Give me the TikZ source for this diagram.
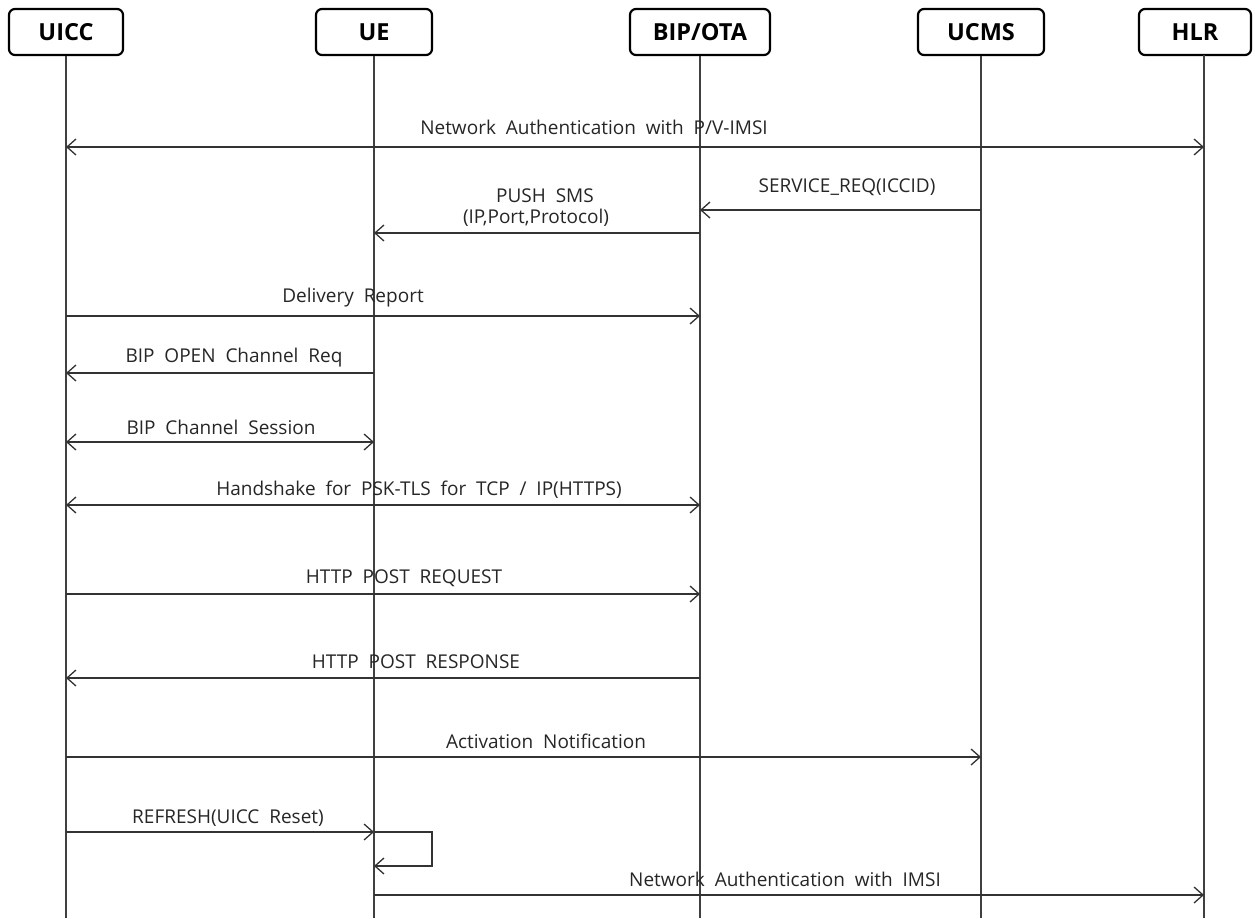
\documentclass[tikz,border=0pt]{standalone}
\usepackage{fontspec}
\setmainfont{Open Sans}[WordSpace=2.0]
\usetikzlibrary{arrows.meta}
\begin{document}
\begin{tikzpicture}[x=1pt,y=-1pt,
  actor/.style={draw=black,line width=2.2pt,rounded corners=6pt,minimum height=46pt,inner sep=0pt,font=\fontsize{23.5}{26}\selectfont\bfseries},
  life/.style={draw=black!75,line width=1.3pt},
  msg/.style={draw=black!80,line width=1.3pt,-{Straight Barb[length=9pt,width=16pt,line width=1.3pt]}},
  bmsg/.style={draw=black!80,line width=1.3pt,{Straight Barb[length=9pt,width=16pt,line width=1.3pt]}-{Straight Barb[length=9pt,width=16pt,line width=1.3pt]}},
  lbl/.style={font=\fontsize{19}{22}\selectfont,text=black!85,inner sep=0pt}]
\useasboundingbox (0,0) rectangle (1255,918);
% actors
\node[actor,minimum width=114pt] (uicc) at (66,32) {UICC};
\node[actor,minimum width=116pt] (ue) at (374,32) {UE};
\node[actor,minimum width=140pt] (bip) at (700,32) {BIP/OTA};
\node[actor,minimum width=126pt] (ucms) at (981,32) {UCMS};
\node[actor,minimum width=112pt] (hlr) at (1195,32) {HLR};
% lifeline ends
\coordinate (uiccE) at (66,918);
\coordinate (ueE) at (374,918);
\coordinate (bipE) at (700,918);
\coordinate (ucmsE) at (981,918);
\coordinate (hlrE) at (1204,918);
\draw[life] (uicc.south) -- (uiccE);
\draw[life] (ue.south) -- (ueE);
\draw[life] (bip.south) -- (bipE);
\draw[life] (ucms.south) -- (ucmsE);
\draw[life] (1204,55) coordinate (hlrS) -- (hlrE);
% message points
\foreach \n/\y in {1/147,2/210,3/233,4/316,5/373,6/442,7/505,8/594,9/678,10/757,11/832,12/866,13/895}{
  \coordinate (a\n) at (66,\y);
  \coordinate (b\n) at (374,\y);
  \coordinate (c\n) at (700,\y);
  \coordinate (d\n) at (981,\y);
  \coordinate (e\n) at (1204,\y);
}
\coordinate (loop1) at (432,832);
\coordinate (loop2) at (432,866);
% messages
\draw[bmsg] (a1) -- (e1);
\node[lbl] (t1) at (594,127) {Network Authentication with P/V-IMSI};
\draw[msg] (d2) -- (c2);
\node[lbl] (t2) at (847,187) {SERVICE\_REQ(ICCID)};
\draw[msg] (c3) -- (b3);
\node[lbl] (t3) at (545,196) {PUSH SMS};
\node[lbl] (t3b) at (536,218) {(IP,Port,Protocol)};
\draw[msg] (a4) -- (c4);
\node[lbl] (t4) at (353,298) {Delivery Report};
\draw[msg] (b5) -- (a5);
\node[lbl] (t5) at (234,358) {BIP OPEN Channel Req};
\draw[bmsg] (a6) -- (b6);
\node[lbl] (t6) at (221,427) {BIP Channel Session};
\draw[bmsg] (a7) -- (c7);
\node[lbl] (t7) at (419,490) {Handshake for PSK-TLS for TCP / IP(HTTPS)};
\draw[msg] (a8) -- (c8);
\node[lbl] (t8) at (404,578) {HTTP POST REQUEST};
\draw[msg] (c9) -- (a9);
\node[lbl] (t9) at (416,662) {HTTP POST RESPONSE};
\draw[msg] (a10) -- (d10);
\node[lbl] (t10) at (546,741) {Activation Notification};
\draw[msg] (a11) -- (b11);
\node[lbl] (t11) at (228,818) {REFRESH(UICC Reset)};
\draw[msg] (b11) -- (loop1) -- (loop2) -- (b12);
\draw[msg] (b13) -- (e13);
\node[lbl] (t13) at (785,879) {Network Authentication with IMSI};
\end{tikzpicture}
\end{document}
